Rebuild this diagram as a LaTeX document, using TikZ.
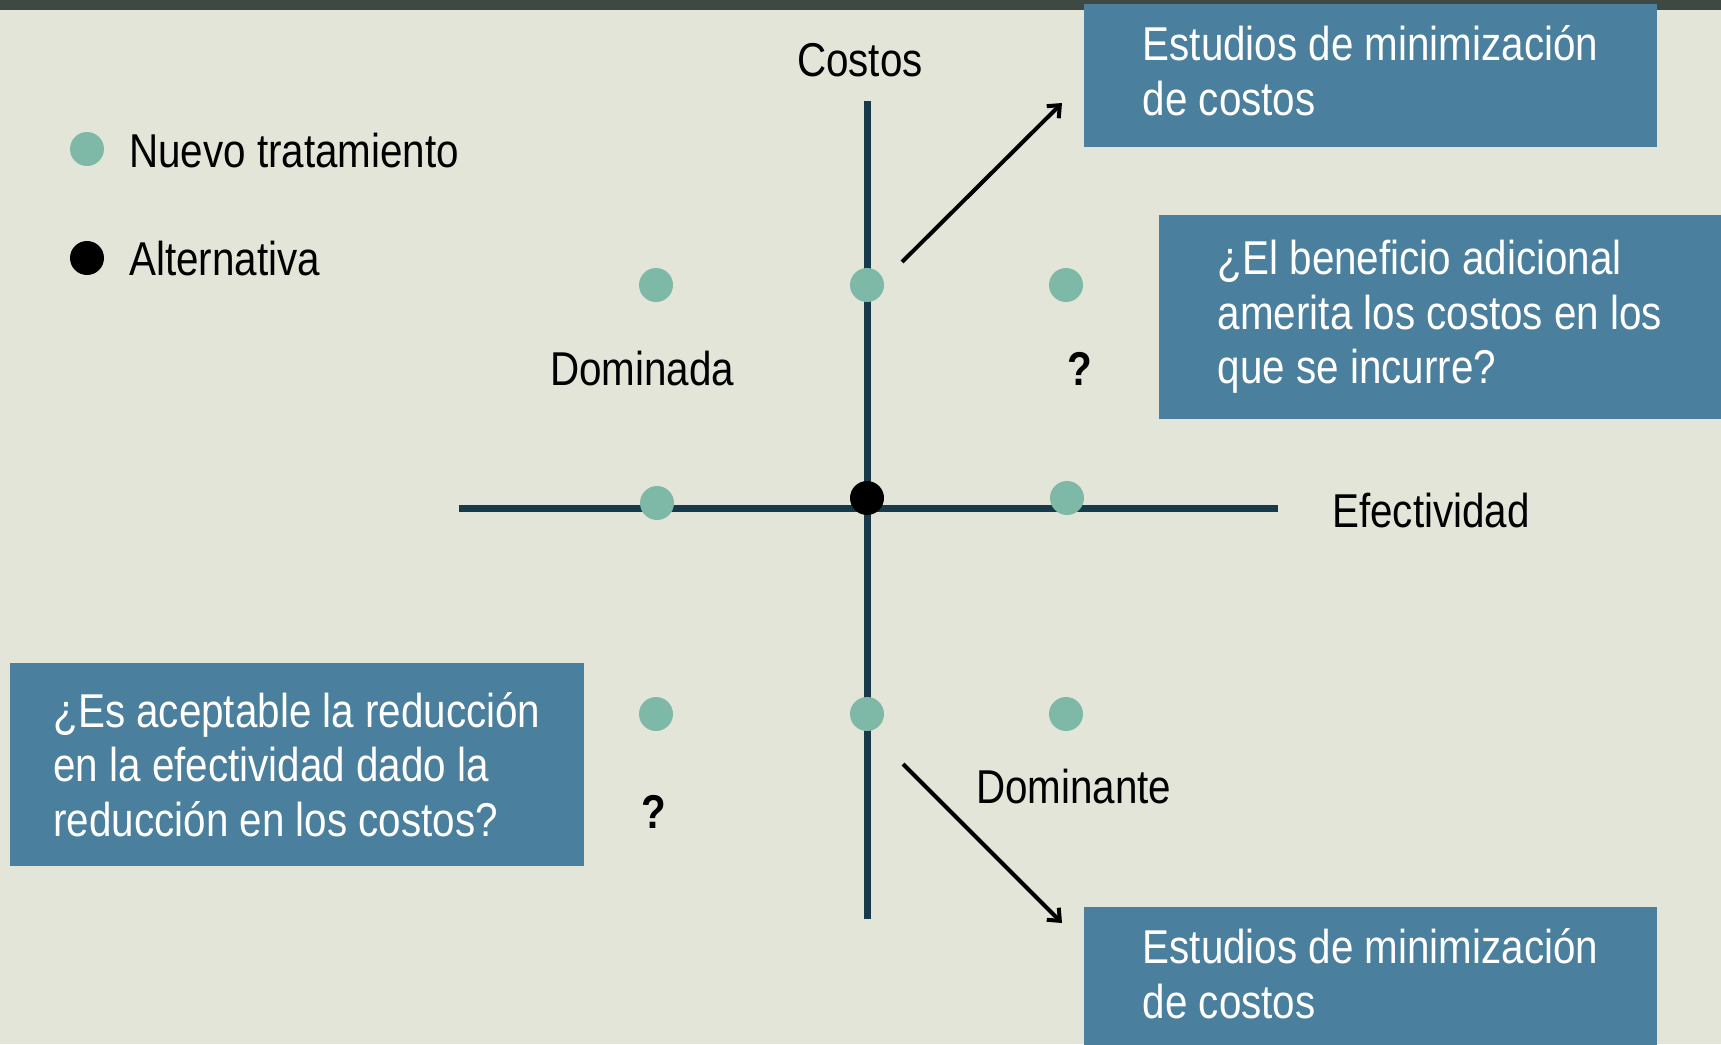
\documentclass[tikz,border=0pt]{standalone}
\usepackage{fontspec}
\setmainfont{Liberation Sans}[FakeStretch=0.85]
\usetikzlibrary{positioning,arrows.meta}
\definecolor{paper}{RGB}{227,229,216}
\definecolor{strip}{RGB}{62,73,68}
\definecolor{boxblue}{RGB}{74,127,158}
\definecolor{axisblue}{RGB}{23,57,74}
\definecolor{dotgreen}{RGB}{126,184,166}
\newcommand{\diagfont}{\fontsize{47.5}{54.5}\selectfont}
\tikzstyle{question} = [
rectangle,
fill=boxblue,
text=white,
align=left,
inner sep=0pt
]
\tikzstyle{newdot} = [
circle,
fill=dotgreen,
minimum size=34pt,
inner sep=0pt
]
\tikzstyle{altdot} = [
circle,
fill=black,
minimum size=34pt,
inner sep=0pt
]
\tikzstyle{axis} = [
draw=axisblue,
line width=7pt
]
\tikzstyle{pointer} = [
draw=black,
line width=4pt,
-{Straight Barb[length=10pt,width=17pt]}
]
\tikzstyle{caption} = [
inner sep=0pt,
anchor=base west
]

\begin{document}
\begin{tikzpicture}[
	x=1pt,
	y=-1pt,
	font=\diagfont
	]
	
	\fill[paper] (0,0) rectangle (1721,1044);
	\useasboundingbox (0,0) rectangle (1721,1044);
	\fill[strip] (0,0) rectangle (1721,10);
	
	% leyenda
	\node[newdot] (keynew) at (87,149) {};
	\node[altdot] (keyalt) at (87,258) {};
	\node[caption] (keynewtext) at (129,167) {Nuevo tratamiento};
	\node[caption] (keyalttext) at (129,275) {Alternativa};
	
	% ejes
	\coordinate (ytop) at (867,101);
	\coordinate (ybot) at (867,919);
	\coordinate (xleft) at (459,508);
	\coordinate (xright) at (1278,508);
	\draw[axis] (ybot) -- (ytop);
	\draw[axis] (xleft) -- (xright);
	\node[caption,anchor=base] (costos) at (860,76) {Costos};
	\node[caption] (efect) at (1332,527) {Efectividad};
	
	% puntos
	\node[newdot] (pnw) at (656,285) {};
	\node[newdot] (pn) at (867,285) {};
	\node[newdot] (pne) at (1066,285) {};
	\node[newdot] (pw) at (657,503) {};
	\node[altdot] (p0) at (867,498) {};
	\node[newdot] (pe) at (1067,498) {};
	\node[newdot] (psw) at (656,714) {};
	\node[newdot] (ps) at (867,714) {};
	\node[newdot] (pse) at (1066,714) {};
	
	\node[caption] (dominada) at (550,385) {Dominada};
	\node[caption,font=\diagfont\bfseries] (qne) at (1067,385) {?};
	\node[caption] (dominante) at (976,803) {Dominante};
	\node[caption,font=\diagfont\bfseries] (qsw) at (641,828) {?};
	
	% cajas
	\node[question,minimum width=573pt,minimum height=143pt] (boxtop) at (1370.5,75.5)
		{Estudios de minimización\\de costos\vphantom{q}};
	\node[question,minimum width=562pt,minimum height=204pt] (boxne) at (1440,317)
		{¿El beneficio adicional\\amerita los costos en los\\que se incurre?};
	\node[question,minimum width=574pt,minimum height=203pt] (boxsw) at (297,764.5)
		{¿Es aceptable la reducción\\en la efectividad dado la\\reducción en los costos?};
	\node[question,minimum width=573pt,minimum height=143pt] (boxbot) at (1370.5,978.5)
		{Estudios de minimización\\de costos\vphantom{q}};
	
	% flechas
	\coordinate (upfrom) at (902,262);
	\coordinate (upto) at (1062,103);
	\coordinate (downfrom) at (903,764);
	\coordinate (downto) at (1062,923);
	\draw[pointer] (upfrom) -- (upto);
	\draw[pointer] (downfrom) -- (downto);
	\end{tikzpicture}
\end{document}
